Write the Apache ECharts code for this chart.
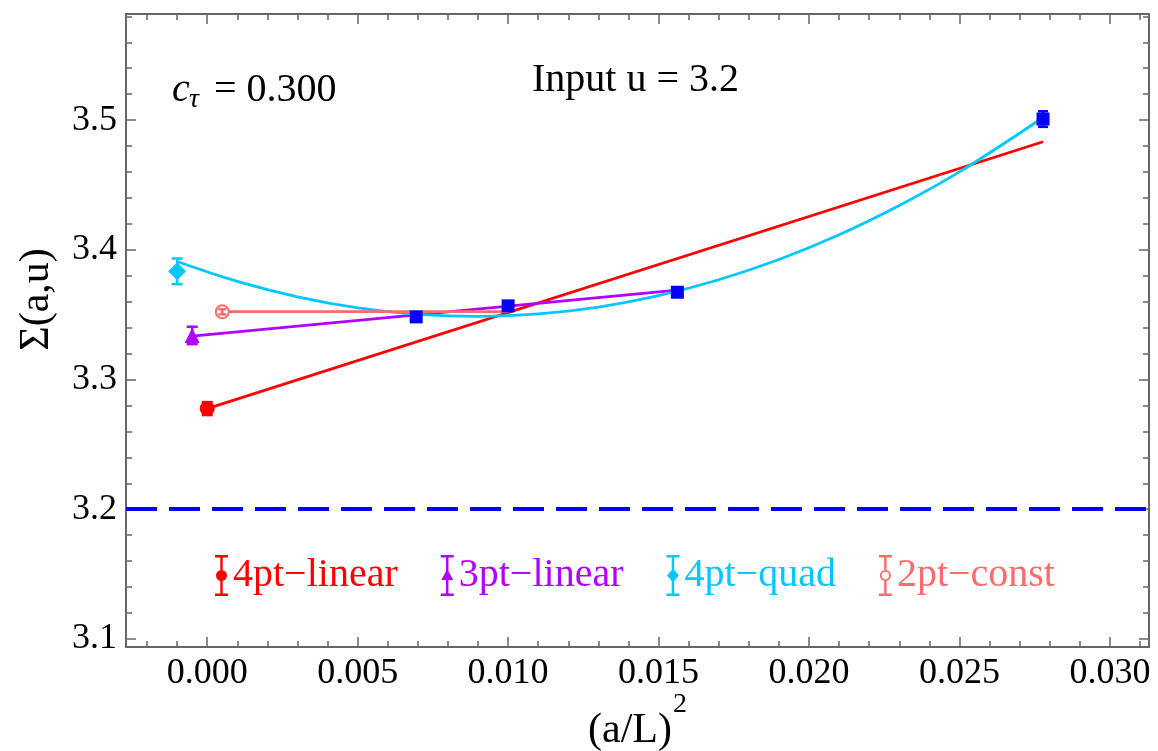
<!DOCTYPE html>
<html>
<head>
<meta charset="utf-8">
<script src="https://cdn.jsdelivr.net/npm/echarts@6/dist/echarts.min.js"></script>
<style>
html,body{margin:0;padding:0;background:#fff;}
#chart{width:1158px;height:751px;}
</style>
</head>
<body>
<div id="chart"></div>
<script>
// ---------------- data ----------------
const xMajorTicks = [0, 0.005, 0.01, 0.015, 0.02, 0.025, 0.03];
const xMinorTicks = [-0.002, -0.001, 0.001, 0.002, 0.003, 0.004, 0.006, 0.007, 0.008, 0.009,
  0.011, 0.012, 0.013, 0.014, 0.016, 0.017, 0.018, 0.019, 0.021, 0.022, 0.023, 0.024,
  0.026, 0.027, 0.028, 0.029, 0.031];
const yMajorTicks = [3.1, 3.2, 3.3, 3.4, 3.5];
const yMinorTicks = [3.12, 3.14, 3.16, 3.18, 3.22, 3.24, 3.26, 3.28, 3.32, 3.34, 3.36, 3.38,
  3.42, 3.44, 3.46, 3.48, 3.52, 3.54, 3.56, 3.58];

const seriesNames = ['4pt\u2212linear', '3pt\u2212linear', '4pt\u2212quad', '2pt\u2212const'];

// extrapolated points [x, value, error]
const pt4Linear = [[0.0, 3.2776, 0.005]];
const pt3Linear = [[-0.0005, 3.3340, 0.0067]];
const pt4Quad   = [[-0.001, 3.3834, 0.0099]];
const pt2Const  = [[0.0005, 3.3522, 0.0020]];

// lattice data (a/L)^2, Sigma, error
const latticeX   = [0.006944, 0.010000, 0.015625, 0.027778];
const latticeY   = [3.3483, 3.3568, 3.3673, 3.5008];
const latticeErr = [0.0030, 0.0030, 0.0030, 0.0060];

// fit curves
const fit4LinearX = [0.0, 0.027778];
const fit4LinearY = [3.2776, 3.4833];
const fit3LinearX = [-0.0005, 0.015625];
const fit3LinearY = [3.3334, 3.3690];
const fit2ConstX  = [0.0005, 0.0100];
const fit2ConstY  = [3.3523, 3.3523];
const fit4QuadX = [-0.001, 0.001, 0.003, 0.005, 0.007, 0.009, 0.011, 0.013, 0.015, 0.017,
  0.019, 0.021, 0.023, 0.025, 0.027778];
const fit4QuadY = [3.3910, 3.3757, 3.3638, 3.3553, 3.3503, 3.3487, 3.3506, 3.3559, 3.3647,
  3.3769, 3.3925, 3.4116, 3.4342, 3.4601, 3.5020];

const inputU = 3.2;
const cTau = '0.300';

// ---------------- styling ----------------
const FONT = '"Liberation Serif", "Times New Roman", serif';
const colors = ['#ff0000', '#b000ff', '#00c8ff', '#ff6b6b'];
const BLUE = '#0000ff';
const AXIS_COLOR = '#666666';
const X_MIN = -0.0027, X_MAX = 0.0313, Y_MIN = 3.0938, Y_MAX = 3.5818;

function zip(xs, ys) { return xs.map((x, i) => [x, ys[i]]); }

function errorBarRender(color, capW) {
  return function (params, api) {
    const x = api.value(0), y = api.value(1), e = api.value(2);
    const top = api.coord([x, y + e]);
    const bot = api.coord([x, y - e]);
    const hw = capW / 2;
    const st = { stroke: color, lineWidth: 2.5 };
    return {
      type: 'group',
      children: [
        { type: 'line', shape: { x1: top[0], y1: top[1], x2: bot[0], y2: bot[1] }, style: st },
        { type: 'line', shape: { x1: top[0] - hw, y1: top[1], x2: top[0] + hw, y2: top[1] }, style: st },
        { type: 'line', shape: { x1: bot[0] - hw, y1: bot[1], x2: bot[0] + hw, y2: bot[1] }, style: st }
      ]
    };
  };
}

const bars = 'M0,0H13V2.5H0Z M5.3,0H7.7V41H5.3Z M0,38.5H13V41H0Z ';
const icons = [
  'path://' + bars + 'M1,20.5A5.5,5.5,0,1,1,12,20.5A5.5,5.5,0,1,1,1,20.5Z',
  'path://' + bars + 'M6.5,14L12.5,25L0.5,25Z',
  'path://' + bars + 'M6.5,13.5L12.5,20.5L6.5,27.5L0.5,20.5Z',
  'path://M0,0H13V2.5H0Z M5.3,0H7.7V15H5.3Z M5.3,26H7.7V41H5.3Z M0,38.5H13V41H0Z ' +
    'M1,20.5A5.5,5.5,0,1,1,12,20.5A5.5,5.5,0,1,1,1,20.5Z ' +
    'M2.8,20.5A3.7,3.7,0,1,0,10.2,20.5A3.7,3.7,0,1,0,2.8,20.5Z'
];

const gridRect = { left: 126, top: 14, right: 9, bottom: 104, outerBoundsMode: 'none', containLabel: false };

function majorX(pos, showLabel) {
  return {
    type: 'value', gridIndex: 0, position: pos, min: X_MIN, max: X_MAX,
    axisLine: { show: true, onZero: false, lineStyle: { color: AXIS_COLOR, width: 2 } },
    axisTick: { show: true, inside: true, length: 10, customValues: xMajorTicks, lineStyle: { color: AXIS_COLOR, width: 1.5 } },
    axisLabel: showLabel ? {
      show: true, customValues: xMajorTicks, formatter: v => v.toFixed(3),
      fontFamily: FONT, fontSize: 36, color: '#000', margin: 9
    } : { show: false },
    splitLine: { show: false }
  };
}
function minorX(pos) {
  return {
    type: 'value', gridIndex: 1, position: pos, min: X_MIN, max: X_MAX,
    axisLine: { show: false, onZero: false },
    axisTick: { show: true, inside: true, length: 6, customValues: xMinorTicks, lineStyle: { color: AXIS_COLOR, width: 1.5 } },
    axisLabel: { show: false }, splitLine: { show: false }
  };
}
function majorY(pos, showLabel) {
  return {
    type: 'value', gridIndex: 0, position: pos, min: Y_MIN, max: Y_MAX,
    axisLine: { show: true, onZero: false, lineStyle: { color: AXIS_COLOR, width: 2 } },
    axisTick: { show: true, inside: true, length: 10, customValues: yMajorTicks, lineStyle: { color: AXIS_COLOR, width: 1.5 } },
    axisLabel: showLabel ? {
      show: true, customValues: yMajorTicks, formatter: v => v.toFixed(1),
      fontFamily: FONT, fontSize: 36, color: '#000', margin: 9
    } : { show: false },
    splitLine: { show: false }
  };
}
function minorY(pos) {
  return {
    type: 'value', gridIndex: 1, position: pos, min: Y_MIN, max: Y_MAX,
    axisLine: { show: false, onZero: false },
    axisTick: { show: true, inside: true, length: 6, customValues: yMinorTicks, lineStyle: { color: AXIS_COLOR, width: 1.5 } },
    axisLabel: { show: false }, splitLine: { show: false }
  };
}

const xBottom = majorX('bottom', true);
xBottom.name = '(a/L){sup|2}';
xBottom.nameLocation = 'middle';
xBottom.nameGap = 44;
xBottom.nameMoveOverlap = false;
xBottom.nameTextStyle = {
  fontFamily: FONT, fontSize: 42, color: '#000',
  rich: { sup: { fontFamily: FONT, fontSize: 28, color: '#000', verticalAlign: 'top', padding: [0, 0, 52, 1] } }
};
const yLeft = majorY('left', true);
yLeft.name = '\u03a3(a,u)';
yLeft.nameLocation = 'middle';
yLeft.nameGap = 68;
yLeft.nameTextStyle = { fontFamily: FONT, fontSize: 42, color: '#000', padding: [0, 0, 0, 62] };

const scatterBase = (name, data, symbol, size, color, extra) => Object.assign({
  name: name, type: 'scatter', xAxisIndex: 0, yAxisIndex: 0,
  data: data.map(d => [d[0], d[1]]), symbol: symbol, symbolSize: size,
  itemStyle: { color: color, opacity: 1 }, z: 5, silent: true
}, extra || {});

const errSeries = (name, data, color, capW) => ({
  name: name, type: 'custom', xAxisIndex: 0, yAxisIndex: 0,
  renderItem: errorBarRender(color, capW), data: data,
  encode: { x: 0, y: 1 }, z: 6, silent: true
});

const lineSeries = (name, xs, ys, color, smooth) => ({
  name: name, type: 'line', xAxisIndex: 0, yAxisIndex: 0, data: zip(xs, ys),
  showSymbol: false, symbol: 'none', smooth: smooth || false,
  lineStyle: { color: color, width: 2.8 }, z: 3, silent: true
});

const latticeData = latticeX.map((x, i) => [x, latticeY[i], latticeErr[i]]);

const option = {
  backgroundColor: '#ffffff',
  animation: false,
  grid: [
    Object.assign({ show: false }, gridRect),
    Object.assign({ show: false }, gridRect)
  ],
  xAxis: [xBottom, majorX('top', false), minorX('bottom'), minorX('top')],
  yAxis: [yLeft, majorY('right', false), minorY('left'), minorY('right')],
  legend: {
    left: 210, top: 550, orient: 'horizontal',
    itemWidth: 13, itemHeight: 41, itemGap: 43,
    selectedMode: false,
    textStyle: { fontFamily: FONT, fontSize: 40 },
    data: seriesNames.map((n, i) => ({
      name: n, icon: icons[i],
      itemStyle: { color: colors[i], borderWidth: 0 },
      textStyle: { color: colors[i], fontFamily: FONT, fontSize: 40 }
    }))
  },
  graphic: [
    { type: 'text', left: 172, top: 70, silent: true,
      style: { text: 'c', fontFamily: FONT, fontStyle: 'italic', fontSize: 40, fill: '#000' } },
    { type: 'text', left: 189, top: 86, silent: true,
      style: { text: '\u03c4', fontFamily: FONT, fontStyle: 'italic', fontSize: 28, fill: '#000' } },
    { type: 'text', left: 214, top: 70, silent: true,
      style: { text: '= ' + cTau, fontFamily: FONT, fontSize: 40, fill: '#000' } },
    { type: 'text', left: 532, top: 60, silent: true,
      style: { text: 'Input u = ' + inputU.toFixed(1), fontFamily: FONT, fontSize: 40, fill: '#000' } }
  ],
  series: [
    // fit lines
    lineSeries('4pt\u2212linear fit', fit4LinearX, fit4LinearY, colors[0]),
    lineSeries('3pt\u2212linear fit', fit3LinearX, fit3LinearY, colors[1]),
    lineSeries('4pt\u2212quad fit', fit4QuadX, fit4QuadY, colors[2], 0.4),
    lineSeries('2pt\u2212const fit', fit2ConstX, fit2ConstY, colors[3]),
    // input u dashed line
    {
      name: 'input u', type: 'line', xAxisIndex: 0, yAxisIndex: 0, data: [],
      markLine: {
        silent: true, symbol: ['none', 'none'], label: { show: false },
        lineStyle: { color: BLUE, width: 4, type: [31, 12] },
        data: [{ yAxis: inputU }]
      }, z: 2
    },
    // lattice data
    scatterBase('lattice data', latticeData, 'rect', 13, BLUE),
    errSeries('lattice data err', latticeData, BLUE, 10),
    // extrapolated points
    scatterBase(seriesNames[0], pt4Linear, 'circle', 15, colors[0]),
    errSeries(seriesNames[0] + ' err', pt4Linear, colors[0], 11),
    scatterBase(seriesNames[1], pt3Linear, 'triangle', 15, colors[1]),
    errSeries(seriesNames[1] + ' err', pt3Linear, colors[1], 11),
    scatterBase(seriesNames[2], pt4Quad, 'diamond', 18, colors[2]),
    errSeries(seriesNames[2] + ' err', pt4Quad, colors[2], 11),
    scatterBase(seriesNames[3], pt2Const, 'emptyCircle', 13, colors[3],
      { itemStyle: { color: colors[3], borderWidth: 2, opacity: 1 } }),
    errSeries(seriesNames[3] + ' err', pt2Const, colors[3], 8)
  ]
};

const chart = echarts.init(document.getElementById('chart'), null, { renderer: 'canvas' });
chart.setOption(option);
</script>
</body>
</html>
